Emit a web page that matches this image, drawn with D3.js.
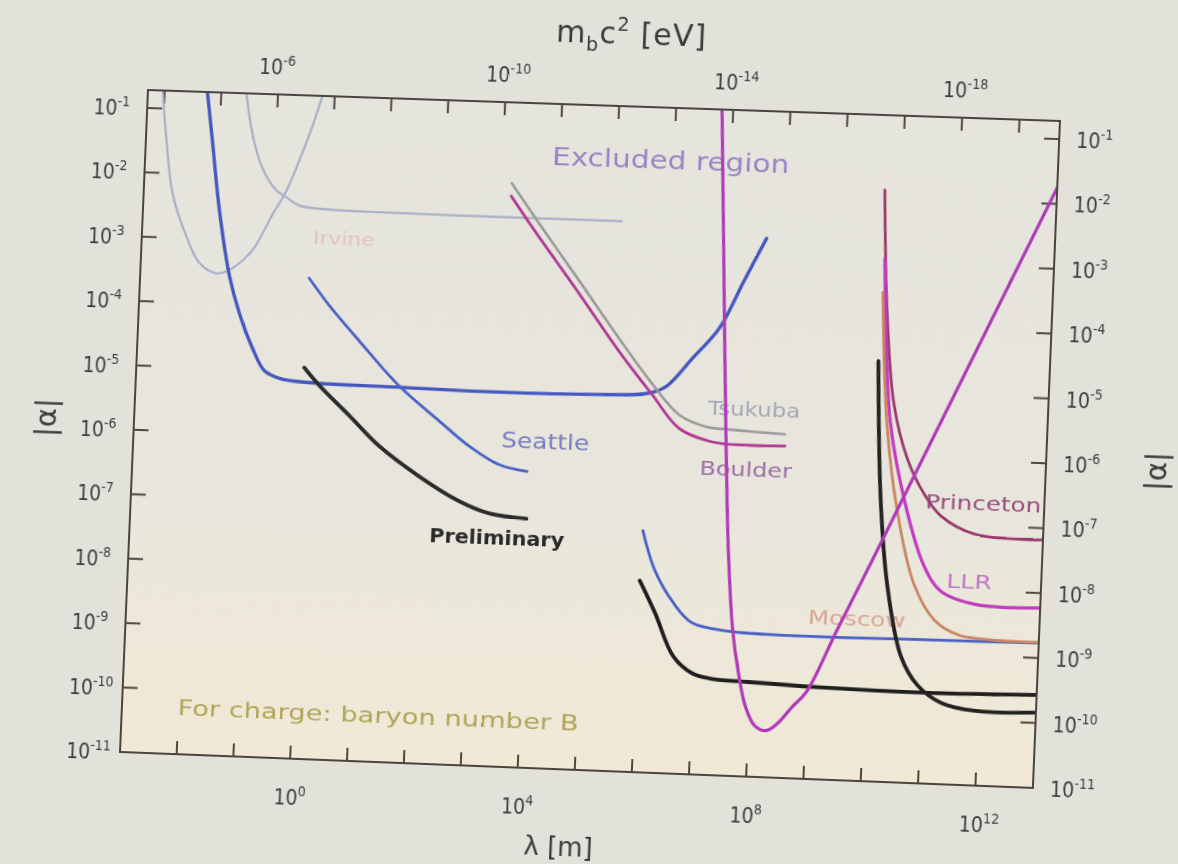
<!DOCTYPE html>
<html>
<head>
<meta charset="utf-8">
<script src="https://cdn.jsdelivr.net/npm/d3@7"></script>
<style>
  html, body { margin: 0; padding: 0; width: 1178px; height: 864px; overflow: hidden; background: #e2e1da; }
  #chart { position: absolute; left: 0; top: 0; transform-origin: 0 0; overflow: visible; }
</style>
</head>
<body>
<svg id="chart" width="1240" height="900"></svg>
<script>
// Every curve point is [log10 λ in m, log10 |α|].
const irvineWell   = [[-2.74,-0.72],[-2.63,-1.53],[-2.49,-2.31],[-2.21,-2.98],[-1.96,-3.38],[-1.65,-3.53],[-1.38,-3.44],[-1.04,-3.15],[-0.72,-2.6],[-0.48,-2.2],[-0.28,-1.73],[-0.08,-1.21],[0.08,-0.72]];
const irvinePlateau = [[-1.26,-0.72],[-1.13,-1.33],[-0.93,-1.86],[-0.66,-2.21],[-0.48,-2.31],[-0.25,-2.43],[0.1,-2.47],[0.93,-2.49],[2.9,-2.5],[5.43,-2.5]];
const blueWide     = [[-1.95,-0.72],[-1.82,-1.51],[-1.65,-2.55],[-1.42,-3.58],[-1.22,-4.14],[-0.97,-4.66],[-0.74,-5.01],[-0.47,-5.12],[0.06,-5.17],[1.6,-5.19],[3.05,-5.21],[5.15,-5.19],[5.98,-5.15],[6.32,-5.03],[6.76,-4.58],[7.21,-4.10],[7.60,-3.37],[7.97,-2.69]];
const seattle      = [[-0.02,-3.55],[0.35,-3.96],[0.90,-4.49],[1.64,-5.17],[2.37,-5.69],[2.91,-6.06],[3.45,-6.33],[3.95,-6.42]];
const preliminary  = [[-0.04,-4.94],[0.24,-5.21],[0.79,-5.66],[1.33,-6.11],[2.06,-6.56],[2.78,-6.92],[3.31,-7.09],[3.97,-7.15]];
const tsukuba      = [[3.47,-1.97],[3.98,-2.58],[4.72,-3.44],[5.46,-4.31],[6.08,-5.00],[6.57,-5.46],[7.06,-5.63],[7.51,-5.66],[8.43,-5.70]];
const boulder      = [[3.47,-2.17],[3.86,-2.64],[4.73,-3.64],[5.47,-4.51],[6.08,-5.16],[6.58,-5.67],[7.17,-5.86],[7.77,-5.89],[8.44,-5.88]];
const blueLong     = [[6.02,-7.27],[6.25,-7.86],[6.60,-8.36],[6.94,-8.66],[7.59,-8.77],[8.56,-8.80],[10.51,-8.79],[13.03,-8.77]];
const blackLong    = [[6.00,-8.04],[6.29,-8.53],[6.64,-9.19],[6.98,-9.44],[7.30,-9.51],[7.95,-9.54],[9.25,-9.58],[11.19,-9.60],[13.0,-9.57]];
const princeton    = [[10.00,-1.88],[10.13,-3.79],[10.31,-5.17],[10.58,-6.00],[10.90,-6.54],[11.21,-6.87],[11.81,-7.13],[12.98,-7.18]];
const llr          = [[10.05,-2.93],[10.26,-5.45],[10.62,-6.83],[10.95,-7.65],[11.26,-8.03],[11.86,-8.21],[13.03,-8.23]];
const moscow       = [[10.04,-3.46],[10.20,-5.46],[10.45,-6.84],[10.79,-7.94],[11.17,-8.48],[11.59,-8.69],[12.18,-8.75],[13.05,-8.76]];
const blackSteep   = [[10.01,-4.52],[10.14,-6.57],[10.32,-7.95],[10.61,-9.05],[10.92,-9.49],[11.35,-9.75],[11.94,-9.85],[12.99,-9.84]];
const magentaValley = [[7.10,-0.72],[7.23,-2.9],[7.37,-5.23],[7.53,-7.56],[7.66,-8.75],[7.78,-9.36],[7.94,-9.93],[8.11,-10.21],[8.31,-10.28],[8.50,-10.17],[8.75,-9.90],[8.99,-9.66],[9.47,-8.71],[10.02,-7.64],[10.82,-6.06],[13.0,-1.75]];

// Axis ticks (exponents of ten)
const lambdaTicks  = d3.range(-2, 13);          // bottom axis, λ [m]
const lambdaLabels = [0, 4, 8, 12];
const energyTicks  = d3.range(-4, -20, -1);     // top axis, m_b c² [eV]
const energyLabels = [-6, -10, -14, -18];
const alphaTicks   = d3.range(-1, -12, -1);     // both vertical axes

const HBAR_C = 1.9733e-7; // eV·m, converts λ to m_b c²

// Plot frame in drawing coordinates
const L = 148, T = 90, W = 912, H = 662;
const x = d3.scaleLog().domain([1e-3, 1e13]).range([L, L + W]);
const y = d3.scaleLog().domain([1e-11, Math.pow(10, -0.72)]).range([T + H, T]);

const svg = d3.select("#chart");
const defs = svg.append("defs");
const grad = defs.append("linearGradient").attr("id", "plotBg").attr("x1", 0).attr("y1", 0).attr("x2", 0).attr("y2", 1);
grad.append("stop").attr("offset", "0%").attr("stop-color", "#e5e4dd");
grad.append("stop").attr("offset", "60%").attr("stop-color", "#e8e6dc");
grad.append("stop").attr("offset", "100%").attr("stop-color", "#f1e9d6");
defs.append("clipPath").attr("id", "plotClip").append("rect")
  .attr("x", L).attr("y", T).attr("width", W).attr("height", H);

svg.append("rect").attr("x", L).attr("y", T).attr("width", W).attr("height", H).attr("fill", "url(#plotBg)");

// Ticks (pointing inward)
const tickColor = "#4f4740";
const tk = svg.append("g").attr("stroke", tickColor).attr("stroke-width", 2);
lambdaTicks.forEach(e => {
  const px = x(Math.pow(10, e));
  tk.append("line").attr("x1", px).attr("x2", px).attr("y1", T + H).attr("y2", T + H - 13);
});
energyTicks.forEach(e => {
  const px = x(HBAR_C / Math.pow(10, e));
  tk.append("line").attr("x1", px).attr("x2", px).attr("y1", T).attr("y2", T + 13);
});
alphaTicks.forEach(e => {
  const py = y(Math.pow(10, e));
  tk.append("line").attr("x1", L).attr("x2", L + 15).attr("y1", py).attr("y2", py);
  tk.append("line").attr("x1", L + W).attr("x2", L + W - 15).attr("y1", py).attr("y2", py);
});

// Power-of-ten labels
const tickFont = "'DejaVu Sans Condensed', 'DejaVu Sans', sans-serif";
function powLabel(g, px, py, e) {
  const t = g.append("text").attr("x", px).attr("y", py)
    .attr("font-family", tickFont).attr("font-stretch", "condensed")
    .attr("fill", "#3e3e3e").attr("font-size", 21);
  t.append("tspan").text("10");
  t.append("tspan").attr("dy", -9).attr("font-size", 14).text(e < 0 ? "-" + (-e) : String(e));
}
const lab = svg.append("g");
alphaTicks.forEach(e => {
  const py = y(Math.pow(10, e));
  powLabel(lab, 94, py + 8, e);
  powLabel(lab, L + W + 17, py + 8, e);
});
lambdaLabels.forEach(e => powLabel(lab, x(Math.pow(10, e)) - 15, T + H + 46, e));
energyLabels.forEach(e => powLabel(lab, x(HBAR_C / Math.pow(10, e)) - 20, T - 20, e));

// Axis titles
const titleFont = "'DejaVu Sans', sans-serif";
const topTitle = svg.append("text").attr("x", 555).attr("y", 28).attr("font-family", titleFont)
  .attr("font-size", 30).attr("fill", "#3a3a3a").attr("letter-spacing", 1);
topTitle.append("tspan").text("m");
topTitle.append("tspan").attr("dy", 8).attr("font-size", 19).text("b");
topTitle.append("tspan").attr("dy", -8).text("c");
topTitle.append("tspan").attr("dy", -13).attr("font-size", 19).text("2");
topTitle.append("tspan").attr("dy", 13).text(" [eV]");

svg.append("text").attr("x", 556).attr("y", 838).attr("font-family", titleFont)
  .attr("font-size", 26).attr("fill", "#3a3a3a").text("λ [m]");

[[59, 421], [1169, 434]].forEach(([cx, cy]) => {
  svg.append("text").attr("transform", `translate(${cx},${cy}) rotate(-90)`)
    .attr("text-anchor", "middle").attr("dominant-baseline", "central")
    .attr("font-family", titleFont).attr("font-size", 29).attr("fill", "#3a3a3a").text("|α|");
});

// Curve annotations
const notes = [
  { text: "Excluded region", x: 556, y: 151, size: 25, color: "#9886c4", len: 237 },
  { text: "Irvine", x: 320, y: 238, size: 17, color: "#e2c3c3", len: 62 },
  { text: "Seattle", x: 517, y: 434, size: 21, color: "#787cc2", len: 88 },
  { text: "Preliminary", x: 449, y: 531, size: 20, color: "#2a2a2a", len: 135, weight: 600 },
  { text: "Tsukuba", x: 722, y: 394, size: 19, color: "#a7a6b4", len: 92 },
  { text: "Boulder", x: 716, y: 454, size: 19, color: "#9e6ea6", len: 92 },
  { text: "Princeton", x: 942, y: 479, size: 20, color: "#984c7c", len: 115 },
  { text: "LLR", x: 966, y: 557, size: 19, color: "#c078c4", len: 45 },
  { text: "Moscow", x: 830, y: 598, size: 19, color: "#d6a696", len: 97 },
  { text: "For charge: baryon number B", x: 204, y: 713, size: 21, color: "#b0a558", len: 402 }
];
svg.append("g").selectAll("text").data(notes).join("text")
  .attr("x", d => d.x).attr("y", d => d.y)
  .attr("font-family", titleFont).attr("font-size", d => d.size)
  .attr("font-weight", d => d.weight || "normal")
  .attr("fill", d => d.color)
  .attr("textLength", d => d.len).attr("lengthAdjust", "spacingAndGlyphs")
  .text(d => d.text);

// Exclusion curves
const series = [
  { data: irvineWell,    color: "#a9aec8", width: 2.2 },
  { data: irvinePlateau, color: "#a9aec8", width: 2.2 },
  { data: blueWide,      color: "#4658c0", width: 3.4 },
  { data: seattle,       color: "#4a62c6", width: 2.8 },
  { data: preliminary,   color: "#2b2b2b", width: 3.8 },
  { data: tsukuba,       color: "#9a9a9c", width: 2.6 },
  { data: boulder,       color: "#b23a92", width: 2.8 },
  { data: blueLong,      color: "#4a60c6", width: 2.8 },
  { data: blackLong,     color: "#1e1e1e", width: 3.8 },
  { data: princeton,     color: "#9a3a6c", width: 2.8 },
  { data: llr,           color: "#c23cc0", width: 3.2 },
  { data: moscow,        color: "#c98662", width: 2.8 },
  { data: blackSteep,    color: "#222222", width: 3.8 },
  { data: magentaValley, color: "#b03ab8", width: 3.2 }
];
const line = d3.line()
  .x(d => x(Math.pow(10, d[0])))
  .y(d => y(Math.pow(10, d[1])))
  .curve(d3.curveCatmullRom.alpha(0.5));
svg.append("g").attr("clip-path", "url(#plotClip)")
  .selectAll("path").data(series).join("path")
  .attr("d", d => line(d.data))
  .attr("fill", "none")
  .attr("stroke", d => d.color)
  .attr("stroke-width", d => d.width)
  .attr("stroke-linecap", "round")
  .attr("stroke-linejoin", "round");

// Frame
svg.append("rect").attr("x", L).attr("y", T).attr("width", W).attr("height", H)
  .attr("fill", "none").attr("stroke", "#4a4440").attr("stroke-width", 2);

// Projective warp of the whole drawing onto the slightly tilted frame
function warp(corners) {
  const [p0, p1, p2, p3] = corners; // TL, TR, BR, BL
  const dx1 = p1[0] - p2[0], dx2 = p3[0] - p2[0], dx3 = p0[0] - p1[0] + p2[0] - p3[0];
  const dy1 = p1[1] - p2[1], dy2 = p3[1] - p2[1], dy3 = p0[1] - p1[1] + p2[1] - p3[1];
  const den = dx1 * dy2 - dx2 * dy1;
  const g = (dx3 * dy2 - dx2 * dy3) / den, h = (dx1 * dy3 - dx3 * dy1) / den;
  const A = [
    [p1[0] - p0[0] + g * p1[0], p3[0] - p0[0] + h * p3[0], p0[0]],
    [p1[1] - p0[1] + g * p1[1], p3[1] - p0[1] + h * p3[1], p0[1]],
    [g, h, 1]
  ];
  const S = [[1 / W, 0, -L / W], [0, 1 / H, -T / H], [0, 0, 1]];
  const M = A.map(r => [0, 1, 2].map(j => r[0] * S[0][j] + r[1] * S[1][j] + r[2] * S[2][j]));
  return `matrix3d(${M[0][0]},${M[1][0]},0,${M[2][0]},${M[0][1]},${M[1][1]},0,${M[2][1]},0,0,1,0,${M[0][2]},${M[1][2]},0,${M[2][2]})`;
}
svg.style("transform", warp([[148, 90], [1060, 121], [1033, 788], [120, 752]]));
</script>
</body>
</html>
